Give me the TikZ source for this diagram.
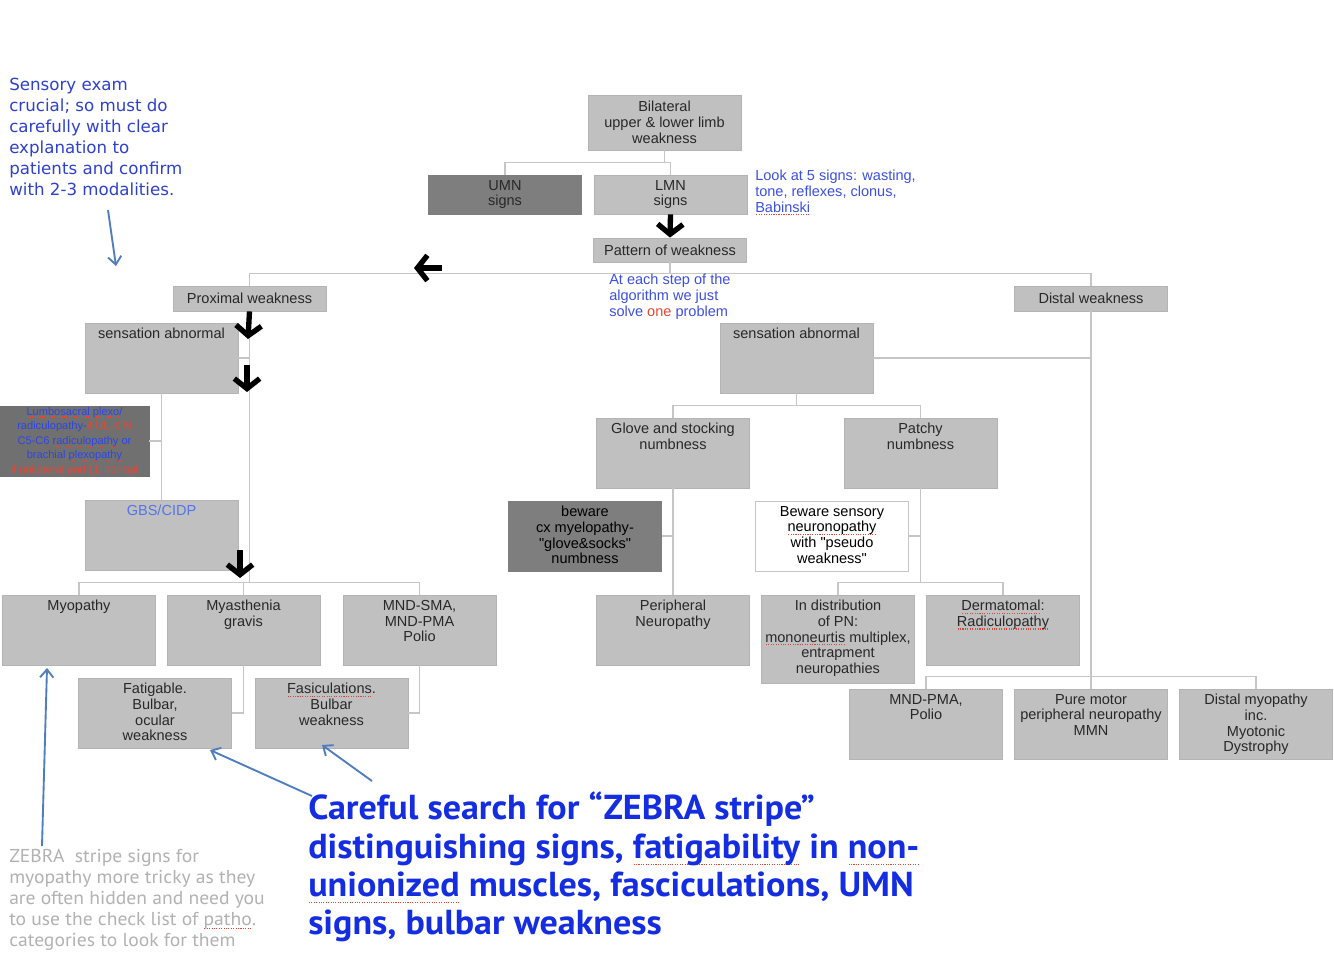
\documentclass[tikz,border=0pt]{standalone}
\usepackage{fontspec}
\setmainfont{Liberation Sans}[Ligatures=TeXOff]
\newfontfamily\notefont{DejaVu Sans}
\newfontfamily\bigfont[FakeStretch=1.04]{PT Sans}
\newfontfamily\zebrafont[FakeStretch=1.05]{PT Sans}
\usepackage{tikz}
\usetikzlibrary{positioning,arrows.meta}
\definecolor{boxgrey}{RGB}{192,192,192}
\definecolor{boxline}{RGB}{180,180,180}
\definecolor{darkbox}{RGB}{126,126,126}
\definecolor{lumbbox}{RGB}{112,112,112}
\definecolor{linegrey}{RGB}{198,198,198}
\definecolor{textgrey}{RGB}{40,40,40}
\definecolor{noteblue}{RGB}{45,65,205}
\definecolor{lookblue}{RGB}{60,80,225}
\definecolor{bigblue}{RGB}{20,45,225}
\definecolor{gbsblue}{RGB}{85,115,235}
\definecolor{lumbblue}{RGB}{45,70,230}
\definecolor{spellred}{RGB}{230,70,55}
\definecolor{steelblue}{RGB}{80,125,190}
\definecolor{zebragrey}{RGB}{178,178,178}
\newcommand\chartfont{\fontsize{10.9}{11.8}\selectfont}
% red dotted spell-check underline
\newsavebox\sqbox
\newcommand\sq[1]{\sbox\sqbox{#1}\rlap{\lower0.4ex\hbox to\wd\sqbox{\color{spellred}\xleaders\hbox{\kern0.5pt\rule{0.8pt}{0.8pt}\kern0.5pt}\hfill}}\usebox\sqbox}

\begin{document}
\begin{tikzpicture}[x=0.75pt, y=-0.75pt,
        box/.style={rectangle, fill=boxgrey, draw=boxline, line width=0.6pt, minimum width=114.75pt, minimum height=52.5pt, inner sep=0pt, align=center, font=\chartfont, text=textgrey},
        flat/.style={box, minimum height=18.75pt},
        txt/.style={align=center, font=\chartfont, text=textgrey, inner sep=1pt},
        link/.style={draw=linegrey, line width=0.8pt},
        bigarrow/.style={draw=black, line width=4pt, -{Straight Barb[length=7.5pt, width=19pt]}},
        note arrow/.style={draw=steelblue, line width=1.4pt, -{Straight Barb[length=6pt, width=10pt]}}]
        \fill[white] (0,0) rectangle (1334,957);
        \useasboundingbox (0,0) rectangle (1334,957);

        % top of the tree
        \node[box, minimum height=41.25pt] (bil) at (664.5,122.5) {Bilateral\\upper \& lower limb\\weakness};
        \node[box, fill=darkbox, draw=darkbox, minimum height=29.25pt] (umn) at (505,194.5) {UMN\\signs};
        \node[box, minimum height=29.25pt] (lmn) at (670.5,194.5) {LMN\\signs};
        \node[box, minimum height=18pt] (pat) at (670,250) {Pattern of weakness};
        \node[flat] (prox) at (249.5,298.5) {Proximal weakness};
        \node[flat] (dist) at (1091,298.5) {Distal weakness};

        % proximal side
        \node[box] (sensL) at (161.5,358) {};
        \node[txt] (sensLt) [below=3pt of sensL.north] {sensation abnormal};
        \node[box, fill=lumbbox, draw=lumbbox, minimum width=111.75pt] (lumb) at (74.5,441) {};
        \node[txt, font=\fontsize{8.3}{10.9}\selectfont] (lumbt) [below=0pt of lumb.north] {{\color{lumbblue}\sq{Lumbosacral plexo}/}\\{\color{lumbblue}radiculopathy-}{\color{spellred}if UL is N}\\{\color{lumbblue}C5-C6 \sq{radiculopathy} or}\\{\color{lumbblue}brachial \sq{plexopathy}}\\{\color{spellred}if unilateral and LL normal}};
        \node[box] (gbs) at (161.5,535) {};
        \node[txt, text=gbsblue] (gbst) [below=3pt of gbs.north] {GBS/CIDP};
        \node[box] (myo) at (79,630) {};
        \node[txt] (myot) [below=3pt of myo.north] {Myopathy};
        \node[box] (myas) at (243.5,630) {};
        \node[txt] (myast) [below=3pt of myas.north] {Myasthenia\\gravis};
        \node[box] (mnd) at (419.5,630) {};
        \node[txt] (mndt) [below=3pt of mnd.north] {MND-SMA,\\MND-PMA\\Polio};
        \node[box] (fat) at (155,713) {};
        \node[txt] (fatt) [below=3pt of fat.north] {Fatigable.\\Bulbar,\\ocular\\weakness};
        \node[box] (fasc) at (331.5,713) {};
        \node[txt] (fasct) [below=3pt of fasc.north] {\sq{Fasiculations}.\\Bulbar\\weakness};

        % distal side
        \node[box] (sensR) at (796.5,358) {};
        \node[txt] (sensRt) [below=3pt of sensR.north] {sensation abnormal};
        \node[box] (glove) at (673,453) {};
        \node[txt] (glovet) [below=3pt of glove.north] {Glove and stocking\\numbness};
        \node[box] (patchy) at (920.5,453) {};
        \node[txt] (patchyt) [below=3pt of patchy.north] {Patchy\\numbness};
        \node[box, fill=darkbox, draw=darkbox] (bew1) at (585,536) {};
        \node[txt, text=black] (bew1t) [below=3pt of bew1.north] {beware\\cx myelopathy-\\"glove\&socks"\\numbness};
        \node[box, fill=white, draw=linegrey] (bew2) at (832,536) {};
        \node[txt, text=black] (bew2t) [below=3pt of bew2.north] {Beware sensory\\\sq{neuronopathy}\\with "pseudo\\weakness"};
        \node[box] (periph) at (673,630) {};
        \node[txt] (peripht) [below=3pt of periph.north] {Peripheral\\Neuropathy};
        \node[box, minimum height=66pt] (indist) at (838,639) {};
        \node[txt] (indistt) [below=3pt of indist.north] {In distribution\\of PN:\\\sq{mononeurtis} multiplex,\\entrapment\\neuropathies};
        \node[box] (derm) at (1003,630) {};
        \node[txt] (dermt) [below=3pt of derm.north] {\sq{Dermatomal}:\\\sq{Radiculopathy}};
        \node[box] (pma) at (926,724) {};
        \node[txt] (pmat) [below=3pt of pma.north] {MND-PMA,\\Polio};
        \node[box] (pure) at (1091,724) {};
        \node[txt] (puret) [below=3pt of pure.north] {Pure motor\\peripheral neuropathy\\MMN};
        \node[box] (dmyo) at (1256,724) {};
        \node[txt] (dmyot) [below=3pt of dmyo.north] {Distal myopathy\\inc.\\Myotonic\\Dystrophy};

        % connectors
        \draw[link] (bil.south) -- ++(0,12) -| (umn.north);
        \draw[link] (bil.south) -- ++(0,12) -| (lmn.north);
        \draw[link] (pat.south) -- ++(0,11) -| (prox.north);
        \draw[link] (pat.south) -- ++(0,11) -| (dist.north);
        \draw[link] (prox.south) -- ++(0,272);
        \draw[link] (sensL.east) -- (sensL.east -| prox.south);
        \draw[link] (sensL.south) -- (gbs.north);
        \draw[link] (lumb.east) -- (lumb.east -| sensL.south);
        \draw[link] (myo.north) -- ++(0,-12) -| (mnd.north);
        \draw[link] (myas.north) -- ++(0,-12);
        \draw[link] (myas.south) |- (fat.east);
        \draw[link] (mnd.south) |- (fasc.east);
        \draw[link] (dist.south) -- (pure.north);
        \draw[link] (sensR.east) -- (sensR.east -| dist.south);
        \draw[link] (pma.north) -- ++(0,-12) -| (dmyo.north);
        \draw[link] (sensR.south) -- ++(0,13);
        \draw[link] (glove.north) -- ++(0,-12) -| (patchy.north);
        \draw[link] (glove.south) -- (periph.north);
        \draw[link] (bew1.east) -- (bew1.east -| glove.south);
        \draw[link] (patchy.south) -- ++(0,95);
        \draw[link] (bew2.east) -- (bew2.east -| patchy.south);
        \draw[link] (indist.north) -- ++(0,-12) -| (derm.north);

        % big black arrows
        \coordinate (w1) at (442,268);
        \coordinate (w2) at (414,268);
        \coordinate (d1) at (248,339);
        \coordinate (d2) at (247,365);
        \coordinate (d3) at (247,392);
        \coordinate (d4) at (240,550);
        \coordinate (d5) at (240,578);
        \draw[bigarrow] (lmn.south) -- (pat.north);
        \draw[bigarrow] (w1) -- (w2);
        \draw[bigarrow] (prox.south) -- (d1);
        \draw[bigarrow] (d2) -- (d3);
        \draw[bigarrow] (d4) -- (d5);

        % notes
        \node[anchor=north west, align=left, inner sep=0pt, text=noteblue, font=\notefont\fontsize{12.5}{15.75}\selectfont] (sensory) at (9,78) {Sensory exam\\crucial; so must do\\carefully with clear\\explanation to\\patients and confirm\\with 2-3 modalities.};
        \node[anchor=north west, align=left, inner sep=0pt, text=lookblue, font=\chartfont] (look) at (755,170) {Look at 5 signs: wasting,\\tone, reflexes, clonus,\\\sq{Babinski}};
        \node[anchor=north west, align=left, inner sep=0pt, text=lookblue, font=\chartfont] (step) at (609,274) {At each step of the\\algorithm we just\\solve {\color{spellred}one} problem};
        \node[anchor=north west, align=left, inner sep=0pt, text=zebragrey, font=\zebrafont\fontsize{14}{15.75}\selectfont] (zebra) at (9,849) {ZEBRA\ \ stripe signs for\\myopathy more tricky as they\\are often hidden and need you\\to use the check list of \sq{patho}.\\categories to look for them};
        \node[anchor=north west, align=left, inner sep=0pt, text=bigblue, font=\bigfont\bfseries\fontsize{26}{28.7}\selectfont] (careful) at (308,792) {Careful search for “ZEBRA stripe”\\distinguishing signs, \sq{fatigability} in \sq{non-}\\\sq{unionized} muscles, fasciculations, UMN\\signs, bulbar weakness};

        \coordinate (n1) at (108,210);
        \coordinate (n2) at (116,266);
        \coordinate (z1) at (42,846);
        \coordinate (z2) at (47,668);
        \coordinate (c1) at (312,796);
        \coordinate (c2) at (210,750);
        \coordinate (c3) at (372,781);
        \coordinate (c4) at (322,745);
        \draw[note arrow] (n1) -- (n2);
        \draw[note arrow] (z1) -- (z2);
        \draw[note arrow] (c1) -- (c2);
        \draw[note arrow] (c3) -- (c4);
\end{tikzpicture}
\end{document}
